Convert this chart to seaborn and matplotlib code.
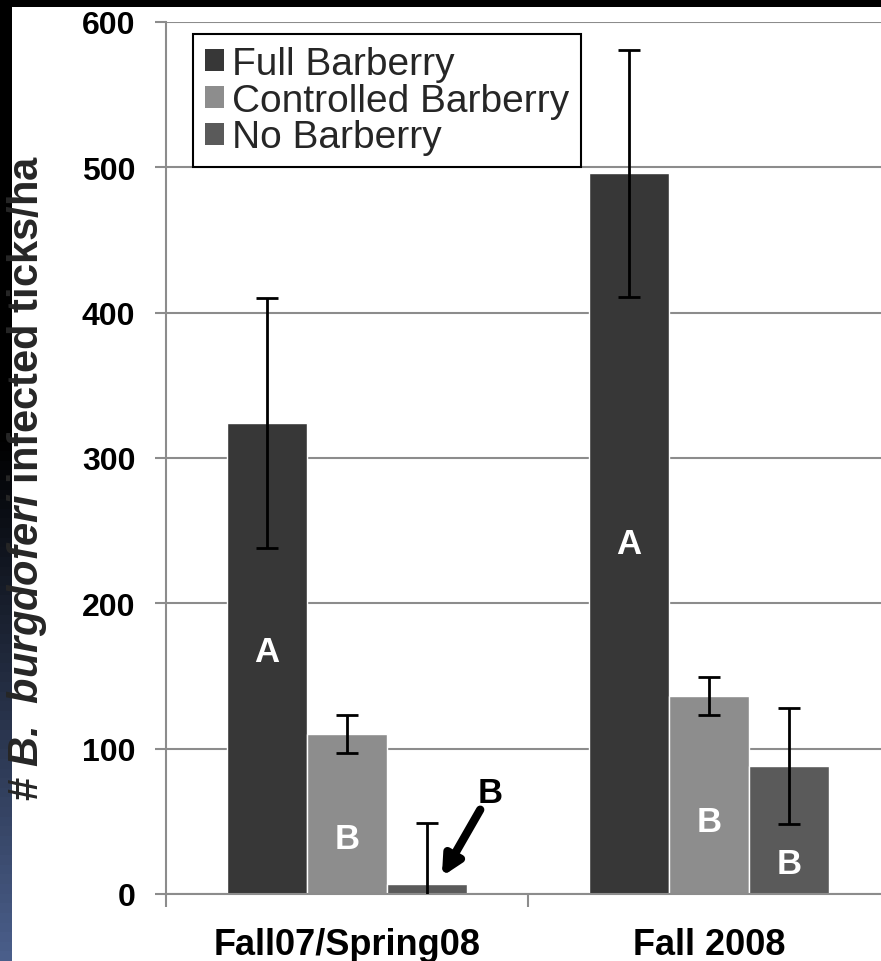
import numpy as np
import pandas as pd
import matplotlib.pyplot as plt
import seaborn as sns
from matplotlib.patches import Patch, Rectangle
from matplotlib.colors import LinearSegmentedColormap

periods = ['Fall07/Spring08', 'Fall 2008']
treatments = ['Full Barberry', 'Controlled Barberry', 'No Barberry']
full_mean = [324, 496]
full_err = [86, 85]
ctrl_mean = [110, 136]
ctrl_err = [13, 13]
none_mean = [7, 88]
none_err = [42, 40]
# significance letters per treatment, per period ('' = drawn outside bar)
full_letters = ['A', 'A']
ctrl_letters = ['B', 'B']
none_letters = ['', 'B']
y_ticks = [0, 100, 200, 300, 400, 500, 600]

means = [full_mean, ctrl_mean, none_mean]
errs = [full_err, ctrl_err, none_err]
letters = [full_letters, ctrl_letters, none_letters]

df = pd.DataFrame({
    'period': periods * 3,
    'treatment': [t for t in treatments for _ in periods],
    'ticks': full_mean + ctrl_mean + none_mean,
})

sns.set_theme(style='white')
plt.rcParams['font.family'] = ['Liberation Sans', 'DejaVu Sans']
plt.rcParams['mathtext.fontset'] = 'custom'
plt.rcParams['mathtext.bfit'] = 'Liberation Sans:italic:bold'

colors = ['#373737', '#8d8d8d', '#5a5a5a']
grey = '#8c8c8c'

fig = plt.figure(figsize=(8.81, 9.62), dpi=100, facecolor='black')
fig.add_artist(Rectangle((12 / 881, 0), 1, (962 - 8) / 962, transform=fig.transFigure,
                         facecolor='white', edgecolor='none', zorder=-2))

# left slide strip: black fading into blue-grey
strip = fig.add_axes([0, 0, 12 / 881, 1])
grad = np.concatenate([np.zeros(45), np.linspace(0, 1, 55)])[:, None]
cmap = LinearSegmentedColormap.from_list('strip', ['#000000', '#4a5e8a'])
strip.imshow(grad, aspect='auto', cmap=cmap)
strip.axis('off')

ax = fig.add_axes([166 / 881, (962 - 895) / 962, 724 / 881, 872 / 962])
sns.barplot(data=df, x='period', y='ticks', hue='treatment', hue_order=treatments,
            palette=colors, saturation=1, width=0.663, errorbar=None, legend=False, ax=ax)

for container, m, e in zip(ax.containers, means, errs):
    xs = [b.get_x() + b.get_width() / 2 for b in container]
    ax.errorbar(xs, m, yerr=e, fmt='none', ecolor='black', elinewidth=2,
                capsize=8, capthick=2, zorder=5)

# in-bar letters
letter_y = [[167, 241], [38, 50], [0, 21]]
for container, lab, ys in zip(ax.containers, letters, letter_y):
    for b, l, yy in zip(container, lab, ys):
        if l:
            ax.text(b.get_x() + b.get_width() / 2, yy, l, color='white', fontsize=25,
                    fontweight='bold', ha='center', va='center', zorder=6)

# letter for the tiny bar, with arrow
ax.text(0.395, 70, 'B', fontsize=25, fontweight='bold', ha='center', va='center',
        color='black')
ax.annotate('', xy=(0.262, 12), xytext=(0.368, 58),
            arrowprops=dict(arrowstyle='-|>', lw=6, color='black', mutation_scale=28,
                            shrinkA=0, shrinkB=0))

ax.set_xlim(-0.5, 1.5)
ax.set_ylim(0, 600)
ax.set_yticks(y_ticks)
ax.set_xticks([-0.5, 0.5, 1.5], minor=True)
ax.set_xlabel('')
ax.set_ylabel(r'# $\mathbfit{B.\ burgdoferi}$ infected ticks/ha', fontsize=30,
              fontweight='bold')
ax.yaxis.label.set_va('center')
ax.yaxis.set_label_coords(-0.192, 0.478)

ax.grid(axis='y', color=grey, linewidth=1.5)
ax.set_axisbelow(True)
for s in ['top', 'right']:
    ax.spines[s].set_visible(False)
for s in ['left', 'bottom']:
    ax.spines[s].set_color(grey)
    ax.spines[s].set_linewidth(1.5)

ax.tick_params(axis='y', which='major', direction='out', length=8, width=1.5, color=grey,
               left=True, pad=14, labelsize=23)
ax.tick_params(axis='x', which='major', length=0, pad=24, labelsize=26)
ax.tick_params(axis='x', which='minor', direction='out', length=9, width=1.5, color=grey,
               bottom=True)
for t in ax.get_xticklabels() + ax.get_yticklabels():
    t.set_fontweight('bold')
    t.set_color('black')

handles = [Patch(facecolor=c, edgecolor='none', label=t) for c, t in zip(colors, treatments)]
leg = ax.legend(handles=handles, loc='upper left', bbox_to_anchor=(0.0373, 0.986),
                borderaxespad=0, fontsize=28, frameon=True, fancybox=False,
                edgecolor='black', framealpha=1, borderpad=0.3, labelspacing=0.02,
                handlelength=0.5, handleheight=0.5, handletextpad=0.2)
leg.get_frame().set_linewidth(1.5)

fig.savefig('out.png', dpi=100, facecolor=fig.get_facecolor())
